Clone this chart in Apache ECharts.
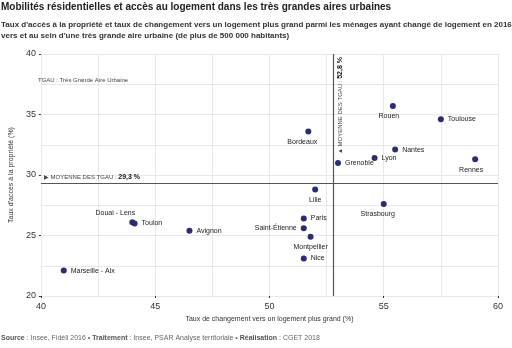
<!DOCTYPE html>
<html><head><meta charset="utf-8">
<script src="https://cdn.jsdelivr.net/npm/echarts@6/dist/echarts.min.js"></script>
<style>html,body{margin:0;padding:0;background:#fff}#c{width:512px;height:348px}</style>
</head><body><div id="c"></div>
<script>
const cities = ["Rouen","Toulouse","Bordeaux","Nantes","Lyon","Grenoble","Rennes","Lille","Strasbourg","Paris","Saint-Étienne","Montpellier","Nice","Douai - Lens","Toulon","Avignon","Marseille - Aix"];
const changeRate = [55.4,57.5,51.7,55.5,54.6,53.0,59.0,52.0,55.0,51.5,51.5,51.8,51.5,44.0,44.1,46.5,41.0];
const ownershipRate = [35.7,34.6,33.6,32.1,31.4,31.0,31.3,28.8,27.6,26.4,25.6,24.9,23.1,26.1,26.0,25.4,22.1];
const meanChange = 52.8;
const meanOwnership = 29.3;
const xTicks = [40,45,50,55,60];
const yTicks = [20,25,30,35,40];

const labelPlacement = {
  "Rouen":"bottom","Toulouse":"right","Bordeaux":"bottom","Nantes":"right","Lyon":"right","Grenoble":"right",
  "Rennes":"bottom","Lille":"bottom","Strasbourg":"bottom","Paris":"right","Saint-Étienne":"left",
  "Montpellier":"bottom","Nice":"right","Douai - Lens":"top","Toulon":"right","Avignon":"right","Marseille - Aix":"right"
};
const labelOffset = {"Douai - Lens":[-17,1],"Bordeaux":[-6,0],"Rouen":[-4,0],"Rennes":[-4,0],"Strasbourg":[-6,0]};

const data = cities.map((n,i)=>({
  name:n, value:[changeRate[i], ownershipRate[i]],
  label:{position:labelPlacement[n], offset:labelOffset[n]||[0,0]}
}));

const F = 'Liberation Sans, Arial, sans-serif';
const chart = echarts.init(document.getElementById('c'));
const axisLbl = {color:'#333', fontSize:9, fontFamily:F};
chart.setOption({
  animation:false,
  textStyle:{fontFamily:F},
  title:[
    {text:'Mobilités résidentielles et accès au logement dans les très grandes aires urbaines', left:1, top:2, padding:0,
     textStyle:{fontSize:10, fontWeight:'bold', color:'#222', fontFamily:F}},
    {text:"Taux d'accès à la propriété et taux de changement vers un logement plus grand parmi les ménages ayant changé de logement en 2016\nvers et au sein d'une très grande aire urbaine (de plus de 500 000 habitants)",
     left:1, top:19, padding:0, textStyle:{fontSize:8, fontWeight:'bold', color:'#333', lineHeight:11, fontFamily:F}},
    {text:'{b|Source} : Insee, Fidéli 2016 • {b|Traitement} : Insee, PSAR Analyse territoriale • {b|Réalisation} : CGET 2018',
     left:1, top:335, padding:0, textStyle:{fontSize:7, color:'#666', fontWeight:'normal', rich:{b:{fontSize:7, fontWeight:'bold', color:'#555'}}}},
    {text:'TGAU : Très Grande Aire Urbaine', left:38, top:77, padding:0,
     textStyle:{fontSize:6, color:'#444', fontWeight:'normal', fontFamily:F}}
  ],
  grid:{left:31, right:14, top:54, bottom:52},
  xAxis:{type:'value', min:xTicks[0], max:xTicks[xTicks.length-1], interval:5,
    name:'Taux de changement vers un logement plus grand (%)', nameLocation:'middle', nameGap:19,
    nameTextStyle:{fontSize:7, color:'#333', fontFamily:F},
    axisLine:{show:false}, axisTick:{show:true, length:2, lineStyle:{color:'#333'}},
    axisLabel:Object.assign({margin:6}, axisLbl),
    splitLine:{lineStyle:{color:'#e8e8e8'}},
    minorTick:{show:false, splitNumber:2}, minorSplitLine:{show:true, lineStyle:{color:'#e8e8e8'}}},
  yAxis:{type:'value', min:yTicks[0], max:yTicks[yTicks.length-1], interval:5,
    name:"Taux d'accès à la propriété (%)", nameLocation:'middle', nameGap:20,
    nameTextStyle:{fontSize:7, color:'#333', fontFamily:F},
    axisLine:{show:true, lineStyle:{color:'#e8e8e8'}}, axisTick:{show:true, length:2, lineStyle:{color:'#333'}},
    axisLabel:Object.assign({margin:5}, axisLbl),
    splitLine:{lineStyle:{color:'#e8e8e8'}},
    minorTick:{show:false, splitNumber:2}, minorSplitLine:{show:true, lineStyle:{color:'#e8e8e8'}}},
  series:[{
    type:'scatter', symbolSize:6, itemStyle:{color:'#2e2d6b', opacity:1},
    label:{show:true, formatter:'{b}', fontSize:7, color:'#222', distance:4, fontFamily:F},
    data:data,
    markLine:{silent:true, symbol:'none', animation:false,
      lineStyle:{color:'#555', width:1.2, type:'solid'},
      data:[
        {xAxis:meanChange, label:{show:true, position:'insideEndBottom', distance:3,
          formatter:'▲ MOYENNE DES TGAU : {v|'+String(meanChange).replace('.',',')+' %}',
          fontSize:6, color:'#444', fontFamily:F,
          rich:{v:{fontSize:7, fontWeight:'bold', color:'#111', fontFamily:F}}}},
        {yAxis:meanOwnership, label:{show:true, position:'insideStartTop', distance:3,
          formatter:'▶ MOYENNE DES TGAU : {v|'+String(meanOwnership).replace('.',',')+' %}',
          fontSize:6, color:'#444', fontFamily:F,
          rich:{v:{fontSize:7, fontWeight:'bold', color:'#111', fontFamily:F}}}}
      ]}
  }]
});
</script></body></html>
